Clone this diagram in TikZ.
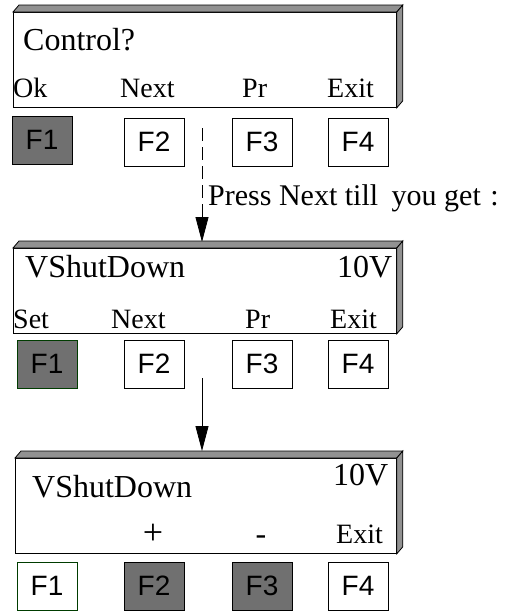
\documentclass[tikz,border=0pt]{standalone}
\usepackage{fontspec}
\setmainfont{Liberation Serif}
\newfontfamily\keyfont{Liberation Sans}
\usepackage{xcolor}
\definecolor{key-gray}{RGB}{112,112,112}
\definecolor{bevel-gray}{RGB}{145,145,145}
\definecolor{key-green}{RGB}{0,60,0}
\usepackage{tikz}
\usetikzlibrary{shapes,arrows,arrows.meta,positioning}

\tikzset{
  screen/.style={draw,line width=0.8pt,fill=white,minimum width=383pt,inner sep=0pt,anchor=north west},
  fkey/.style={draw,line width=1pt,fill=white,minimum width=60pt,minimum height=48pt,inner sep=0pt,
    font=\keyfont\fontsize{28}{28}\selectfont},
  fkeyon/.style={fkey,fill=key-gray},
  toptext/.style={inner sep=0pt,anchor=base west,font=\fontsize{32}{36}\selectfont},
  softkey/.style={inner sep=0pt,anchor=base west,font=\fontsize{28}{32}\selectfont},
  flow/.style={line width=0.8pt,-{Triangle[length=25pt,width=13pt]}},
}

% raised top and right faces of a screen
\newcommand{\screenbevel}[1]{%
  \path (#1.north west) ++(6,-7) coordinate (#1-bnw);
  \path (#1.north east) ++(6,-7) coordinate (#1-bne);
  \path (#1.south east) ++(6,-7) coordinate (#1-bse);
  \draw[line width=0.8pt,fill=bevel-gray] (#1.north west) -- (#1-bnw) -- (#1-bne) -- (#1.north east) -- cycle;
  \draw[line width=0.8pt,fill=bevel-gray] (#1.north east) -- (#1-bne) -- (#1-bse) -- (#1.south east) -- cycle;}

\begin{document}
\begin{tikzpicture}[x=1pt,y=-1pt]
    \useasboundingbox (0,0) rectangle (516,611);

    % first screen
    \node[screen,minimum height=95pt] (scr1) at (13,12) {};
    \screenbevel{scr1}
    \node[toptext] (ctl) at (23,50) {Control?};
    \node[softkey] (ok1) at (13,97) {Ok};
    \node[softkey] (nx1) at (120,97) {Next};
    \node[softkey] (pr1) at (242,97) {Pr};
    \node[softkey] (ex1) at (327,97) {Exit};
    \node[fkeyon] (fa1) at (42,140) {F1};
    \node[fkey] (fa2) at (154,142) {F2};
    \node[fkey] (fa3) at (262,142) {F3};
    \node[fkey] (fa4) at (358,142) {F4};

    \coordinate (d1) at (202,128);
    \coordinate (d2) at (202,242);
    \draw[flow,dash pattern=on 13pt off 6pt] (d1) -- (d2);
    \node[softkey,font=\fontsize{30}{34}\selectfont] (hint) at (208,205)
      {Press Next till\hspace{6pt} you get \hspace{2pt}:};

    % second screen
    \node[screen,minimum height=85pt] (scr2) at (13,248) {};
    \screenbevel{scr2}
    \node[toptext] (vs2) at (25,277) {VShutDown};
    \node[toptext] (vo2) at (337,277) {10V};
    \node[softkey] (st2) at (13,328) {Set};
    \node[softkey] (nx2) at (111,328) {Next};
    \node[softkey] (pr2) at (245,328) {Pr};
    \node[softkey] (ex2) at (330,328) {Exit};
    \node[fkeyon,draw=key-green] (fb1) at (47,364) {F1};
    \node[fkey] (fb2) at (154,364) {F2};
    \node[fkey] (fb3) at (262,364) {F3};
    \node[fkey] (fb4) at (358,364) {F4};

    \coordinate (s1) at (202,378);
    \coordinate (s2) at (202,451);
    \draw[flow] (s1) -- (s2);

    % third screen
    \node[screen,minimum width=381pt,minimum height=95pt] (scr3) at (15,458) {};
    \screenbevel{scr3}
    \node[toptext] (vs3) at (32,497) {VShutDown};
    \node[toptext] (vo3) at (333,485) {10V};
    \node[softkey,anchor=base,font=\fontsize{36}{40}\selectfont] (pl3) at (153,544) {+};
    \node[softkey,anchor=base,font=\fontsize{32}{36}\selectfont] (mi3) at (261,544) {-};
    \node[softkey] (ex3) at (336,543) {Exit};
    \node[fkey,draw=key-green] (fc1) at (47,586) {F1};
    \node[fkeyon] (fc2) at (154,586) {F2};
    \node[fkeyon] (fc3) at (262,586) {F3};
    \node[fkey] (fc4) at (358,586) {F4};
\end{tikzpicture}
\end{document}
